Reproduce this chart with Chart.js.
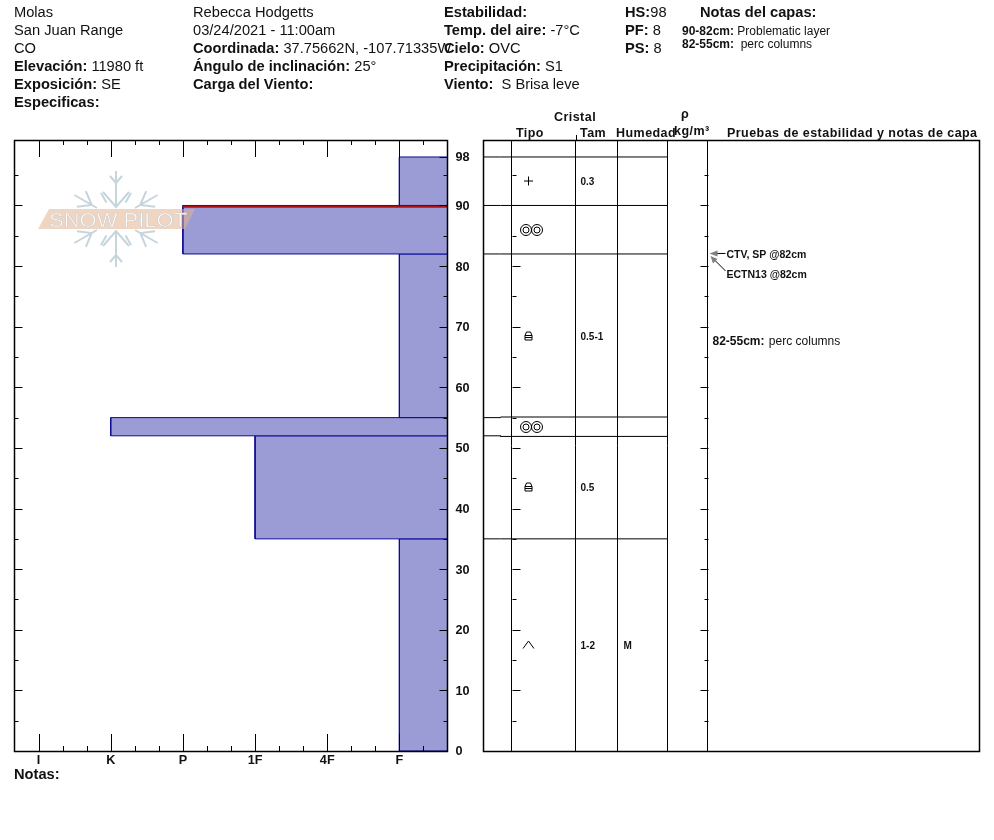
<!DOCTYPE html>
<html>
<head>
<meta charset="utf-8">
<title>Snow Pilot</title>
<script src="https://cdn.jsdelivr.net/npm/chart.js@4"></script>
<style>
html, body { margin: 0; padding: 0; background: #fff; }
body { width: 994px; height: 840px; position: relative; overflow: hidden; font-family: "Liberation Sans", Arial, sans-serif; color: #111; }
canvas { position: absolute; top: 0; }
.t { position: absolute; white-space: pre; font-size: 14.67px; line-height: 18px; height: 18px; }
.s { font-size: 12px; }
.h { font-size: 12.5px; font-weight: bold; letter-spacing: 0.45px; }
#wm { position: absolute; left: 0; top: 0; pointer-events: none; }
</style>
</head>
<body>
<canvas id="profile" width="484" height="790" style="left:0"></canvas>
<canvas id="table" width="514" height="790" style="left:480px"></canvas>

<svg id="wm" width="300" height="300">
  <defs>
    <g id="strut" stroke="#c6d4dc" stroke-width="2" fill="none">
      <path d="M9.5 -16.5L15 -26"/>
    </g>
    <g id="armLong" stroke="#c6d4dc" stroke-width="2" fill="none">
      <path d="M0 -48V-12M-6 -43L0 -36L6 -43M-13 -27L0 -12L13 -27"/>
    </g>
    <g id="armSide" stroke="#c6d4dc" stroke-width="2" fill="none">
      <path d="M0 -48V-22M-9 -40L0 -28L9 -40"/>
    </g>
  </defs>
  <g transform="translate(116,219)">
    <use href="#armLong"/>
    <use href="#armSide" transform="rotate(60)"/>
    <use href="#armSide" transform="rotate(120)"/>
    <use href="#armLong" transform="rotate(180)"/>
    <use href="#armSide" transform="rotate(240)"/>
    <use href="#armSide" transform="rotate(300)"/>
    <use href="#strut"/>
    <use href="#strut" transform="rotate(120)"/>
    <use href="#strut" transform="rotate(180)"/>
    <use href="#strut" transform="rotate(300)"/>
  </g>
  <path d="M38 229L49 209H195L185 229Z" fill="#e3b48f" fill-opacity="0.55"/>
  <text x="49" y="226.5" font-family="Liberation Sans" font-size="21" textLength="138" lengthAdjust="spacingAndGlyphs" fill="#fff" stroke="#cfcdca" stroke-width="0.7">SNOW PILOT</text>
</svg>

<div class="t" style="left:14px;top:3px">Molas</div>
<div class="t" style="left:14px;top:21px">San Juan Range</div>
<div class="t" style="left:14px;top:39px">CO</div>
<div class="t" style="left:14px;top:57px"><b>Elevación:</b> 11980 ft</div>
<div class="t" style="left:14px;top:75px"><b>Exposición:</b> SE</div>
<div class="t" style="left:14px;top:93px"><b>Especificas:</b></div>

<div class="t" style="left:193px;top:3px">Rebecca Hodgetts</div>
<div class="t" style="left:193px;top:21px">03/24/2021 - 11:00am</div>
<div class="t" style="left:193px;top:39px"><b>Coordinada:</b> 37.75662N, -107.71335W</div>
<div class="t" style="left:193px;top:57px"><b>Ángulo de inclinación:</b> 25°</div>
<div class="t" style="left:193px;top:75px"><b>Carga del Viento:</b></div>

<div class="t" style="left:444px;top:3px"><b>Estabilidad:</b></div>
<div class="t" style="left:444px;top:21px"><b>Temp. del aire:</b> -7°C</div>
<div class="t" style="left:444px;top:39px"><b>Cielo:</b> OVC</div>
<div class="t" style="left:444px;top:57px"><b>Precipitación:</b> S1</div>
<div class="t" style="left:444px;top:75px"><b>Viento:</b>  S Brisa leve</div>

<div class="t" style="left:625px;top:3px"><b>HS:</b>98</div>
<div class="t" style="left:625px;top:21px"><b>PF:</b> 8</div>
<div class="t" style="left:625px;top:39px"><b>PS:</b> 8</div>
<div class="t" style="left:700px;top:3px"><b>Notas del capas:</b></div>
<div class="t s" style="left:682px;top:22px"><b>90-82cm:</b> Problematic layer</div>
<div class="t s" style="left:682px;top:35px"><b>82-55cm:</b>  perc columns</div>

<div class="t h" style="left:554px;top:108px">Cristal</div>
<div class="t h" style="left:516px;top:124px">Tipo</div>
<div class="t h" style="left:580px;top:124px">Tam</div>
<div class="t h" style="left:616px;top:124px">Humedad</div>
<div class="t h" style="left:681px;top:105px">ρ</div>
<div class="t h" style="left:674px;top:122px">kg/m³</div>
<div class="t h" style="left:727px;top:124px">Pruebas de estabilidad y notas de capa</div>

<div class="t" style="left:14px;top:765px"><b>Notas:</b></div>

<script>
// layers, from the surface down
var layerTop = [98, 90, 82, 55, 52, 35];
var layerBottom = [90, 82, 55, 52, 35, 0];
var layerHardness = [6, 3, 6, 2, 4, 6];
var crystalType = ['plus', 'rounds', 'facet', 'rounds', 'facet', 'cup'];
var crystalSize = ['0.3', '', '0.5-1', '', '0.5', '1-2'];
var layerMoisture = ['', '', '', '', '', 'M'];
// the table rows sit a little off the real depth where a layer is very thin
var rowRule = [98, 90, 82, 55.1, 51.9, 35];

var hardnessLabels = ['I', 'K', 'P', '1F', '4F', 'F'];
var hardnessValues = [1, 2, 3, 4, 5, 6];
var depthLabels = [0, 10, 20, 30, 40, 50, 60, 70, 80, 90, 98];
var problemDepth = 89.8;
var problemHardness = 3;
var testDepth = 82;
var testNames = ['CTV, SP @82cm', 'ECTN13 @82cm'];
var layerNote = { depth: 68.5, range: '82-55cm:', text: 'perc columns' };

var hardMin = 2 / 3, hardMax = 6 + 2 / 3, depthMax = 100.8;
var tableEdges = [0, 28, 92, 134, 184, 224, 496]; // table column edges, x axis units
var ruleStep = 17;

Chart.defaults.animation = false;
Chart.defaults.font.family = '"Liberation Sans", Arial, sans-serif';
Chart.defaults.color = '#111';

function line(ctx, x1, y1, x2, y2) {
    ctx.beginPath();
    ctx.moveTo(x1, y1);
    ctx.lineTo(x2, y2);
    ctx.stroke();
}

// ticks on the 5 cm marks, pointing into the plot
function depthTicks(ctx, scale, x, dir) {
    for (var d = 5; d < 100; d += 5) {
        var y = Math.round(scale.getPixelForValue(d)) + 0.5;
        line(ctx, x, y, x + dir * (d % 10 == 0 ? 8 : 4), y);
    }
}

///////////////////////////
// HARDNESS PROFILE      //
///////////////////////////
var layerSets = layerTop.map(function (top, i) {
    var h = layerHardness[i], b = layerBottom[i];
    return {
        data: [{ x: h, y: b }, { x: hardMax, y: b }, { x: hardMax, y: top }, { x: h, y: top }, { x: h, y: b }],
        showLine: true, fill: 'shape', tension: 0, pointRadius: 0,
        borderColor: '#0a0a96', borderWidth: 1, backgroundColor: '#9b9bd6'
    };
});
// red mark on the problematic layer
layerSets.unshift({
    data: [{ x: problemHardness, y: problemDepth }, { x: hardMax, y: problemDepth }],
    showLine: true, pointRadius: 0, borderColor: '#b01212', borderWidth: 2
});

var profileFrame = {
    id: 'profileFrame',
    afterDraw: function (chart) {
        var ctx = chart.ctx, a = chart.chartArea, xs = chart.scales.x, ys = chart.scales.y;
        ctx.save();
        ctx.strokeStyle = '#000';
        ctx.lineWidth = 1;
        // hardness ticks, top and bottom
        for (var i = 1; i < 18; i++) {
            var x = Math.round(xs.getPixelForValue(hardMin + i / 3)) + 0.5;
            var len = (i - 1) % 3 == 0 ? 17 : 5;
            line(ctx, x, a.top, x, a.top + len);
            line(ctx, x, a.bottom, x, a.bottom - len);
        }
        depthTicks(ctx, ys, a.left, 1);
        depthTicks(ctx, ys, a.right, -1);
        var y98 = Math.round(ys.getPixelForValue(98)) + 0.5;
        line(ctx, a.right, y98, a.right - 8, y98);
        ctx.lineWidth = 1.5;
        ctx.strokeRect(a.left, a.top + 0.5, a.right - a.left, a.bottom - a.top);
        ctx.restore();
    }
};

new Chart(document.getElementById('profile'), {
    type: 'scatter',
    data: { datasets: layerSets },
    plugins: [profileFrame],
    options: {
        responsive: false,
        devicePixelRatio: 1,
        layout: { padding: { left: 14.5, top: 140, right: 0, bottom: 0 } },
        plugins: { legend: { display: false }, tooltip: { enabled: false } },
        scales: {
            x: {
                type: 'linear', min: hardMin, max: hardMax,
                grid: { display: false, drawTicks: false }, border: { display: false },
                afterBuildTicks: function (s) { s.ticks = hardnessValues.map(function (v) { return { value: v }; }); },
                afterFit: function (s) { s.height = 39; },
                ticks: {
                    autoSkip: false, maxRotation: 0, padding: 2,
                    font: { size: 12.67, weight: 'bold' }, color: '#111',
                    callback: function (v) { return hardnessLabels[v - 1]; }
                }
            },
            y: {
                type: 'linear', position: 'right', min: 0, max: depthMax,
                grid: { display: false, drawTicks: false }, border: { display: false },
                afterBuildTicks: function (s) { s.ticks = depthLabels.map(function (v) { return { value: v }; }); },
                afterFit: function (s) { s.width = 36.5; },
                ticks: { autoSkip: false, padding: 8, labelOffset: 1, font: { size: 12.67, weight: 'bold' }, color: '#111' }
            }
        }
    }
});

///////////////////////////
// LAYER TABLE           //
///////////////////////////
function drawCrystal(ctx, type, x, y) {
    ctx.lineWidth = 1;
    ctx.beginPath();
    if (type == 'plus') {
        ctx.moveTo(x - 4.5, y); ctx.lineTo(x + 4.5, y);
        ctx.moveTo(x, y - 4.5); ctx.lineTo(x, y + 4.5);
    } else if (type == 'rounds') {
        [-5.5, 5.5].forEach(function (dx) {
            ctx.moveTo(x + dx + 5.5, y);
            ctx.arc(x + dx, y, 5.5, 0, Math.PI * 2);
            ctx.moveTo(x + dx + 3, y);
            ctx.arc(x + dx, y, 3, 0, Math.PI * 2);
        });
    } else if (type == 'facet') {
        ctx.rect(x - 3.5, y - 0.5, 7, 4.5);
        ctx.moveTo(x - 3.5, y + 1.5); ctx.lineTo(x + 3.5, y + 1.5);
        ctx.moveTo(x - 3.5, y - 0.5); ctx.lineTo(x - 2, y - 4); ctx.lineTo(x + 2, y - 4); ctx.lineTo(x + 3.5, y - 0.5);
    } else if (type == 'cup') {
        ctx.moveTo(x - 5.5, y + 3.5); ctx.lineTo(x, y - 4); ctx.lineTo(x + 5.5, y + 3.5);
    }
    ctx.stroke();
}

var tableMarks = {
    id: 'tableMarks',
    afterDraw: function (chart) {
        var ctx = chart.ctx, a = chart.chartArea, xs = chart.scales.x, ys = chart.scales.y;
        ctx.save();
        ctx.strokeStyle = '#000';
        ctx.fillStyle = '#111';
        ctx.lineWidth = 1;
        var x1 = Math.round(xs.getPixelForValue(tableEdges[1])) + 0.5;
        var x5 = Math.round(xs.getPixelForValue(tableEdges[5])) + 0.5;
        var x2 = Math.round(xs.getPixelForValue(tableEdges[2])) + 0.5;
        depthTicks(ctx, ys, x1, 1);
        depthTicks(ctx, ys, x5, -1);
        line(ctx, x2, a.top, x2, a.top - 5);

        // crystal rows
        ctx.textBaseline = 'middle';
        layerTop.forEach(function (top, i) {
            var y = Math.round(ys.getPixelForValue((top + layerBottom[i]) / 2));
            var cx = xs.getPixelForValue(tableEdges[1]) + (crystalType[i] == 'rounds' ? 20 : 17);
            drawCrystal(ctx, crystalType[i], cx, y);
            ctx.font = 'bold 10px "Liberation Sans"';
            ctx.fillText(crystalSize[i], xs.getPixelForValue(tableEdges[2]) + 5, y + 1);
            ctx.fillText(layerMoisture[i], xs.getPixelForValue(tableEdges[3]) + 6, y + 1);
        });

        // stability tests with their arrows
        var x0 = xs.getPixelForValue(tableEdges[5]);
        var yt = ys.getPixelForValue(testDepth);
        ctx.font = 'bold 10.5px "Liberation Sans"';
        ctx.fillText(testNames[0], x0 + 19, yt + 1);
        ctx.fillText(testNames[1], x0 + 19, yt + 21);
        ctx.lineWidth = 1;
        line(ctx, x0 + 18, yt - 0.5, x0 + 6, yt - 0.5);
        line(ctx, x0 + 18, yt + 17, x0 + 6, yt + 5);
        ctx.fillStyle = '#808080';
        ctx.beginPath();
        ctx.moveTo(x0 + 2, yt - 0.5); ctx.lineTo(x0 + 10, yt - 3.5); ctx.lineTo(x0 + 10, yt + 2.5); ctx.closePath();
        ctx.moveTo(x0 + 3, yt + 2); ctx.lineTo(x0 + 10, yt + 5); ctx.lineTo(x0 + 5.5, yt + 9.5); ctx.closePath();
        ctx.fill();

        // layer note
        ctx.fillStyle = '#111';
        var yn = ys.getPixelForValue(layerNote.depth) + 5.5;
        ctx.font = 'bold 12px "Liberation Sans"';
        ctx.fillText(layerNote.range, x0 + 5, yn);
        var w = ctx.measureText(layerNote.range + ' ').width;
        ctx.font = '12px "Liberation Sans"';
        ctx.fillText(layerNote.text, x0 + 5 + w + 1, yn);

        ctx.lineWidth = 1.5;
        ctx.strokeRect(a.left, a.top + 0.5, a.right - a.left, a.bottom - a.top);
        ctx.restore();
    }
};

// one rule for each layer boundary, stopping at the end of the humedad column
var boundarySets = layerTop.map(function (d, i) {
    return {
        data: [{ x: tableEdges[0], y: d }, { x: ruleStep, y: d }, { x: ruleStep, y: rowRule[i] }, { x: tableEdges[4], y: rowRule[i] }],
        showLine: true, pointRadius: 0, borderColor: '#000', borderWidth: 1
    };
});

new Chart(document.getElementById('table'), {
    type: 'scatter',
    data: { datasets: boundarySets },
    plugins: [tableMarks],
    options: {
        responsive: false,
        devicePixelRatio: 1,
        layout: { padding: { left: 3.5, top: 140, right: 14.5, bottom: 0 } },
        plugins: { legend: { display: false }, tooltip: { enabled: false } },
        scales: {
            x: {
                type: 'linear', min: tableEdges[0], max: tableEdges[6],
                grid: { color: '#000', lineWidth: 1, drawTicks: false }, border: { display: false },
                afterBuildTicks: function (s) { s.ticks = tableEdges.map(function (v) { return { value: v }; }); },
                afterFit: function (s) { s.height = 39; },
                ticks: { display: false, autoSkip: false }
            },
            y: {
                type: 'linear', min: 0, max: depthMax,
                grid: { display: false, drawTicks: false }, border: { display: false },
                afterFit: function (s) { s.width = 0; },
                ticks: { display: false }
            }
        }
    }
});
</script>
</body>
</html>
